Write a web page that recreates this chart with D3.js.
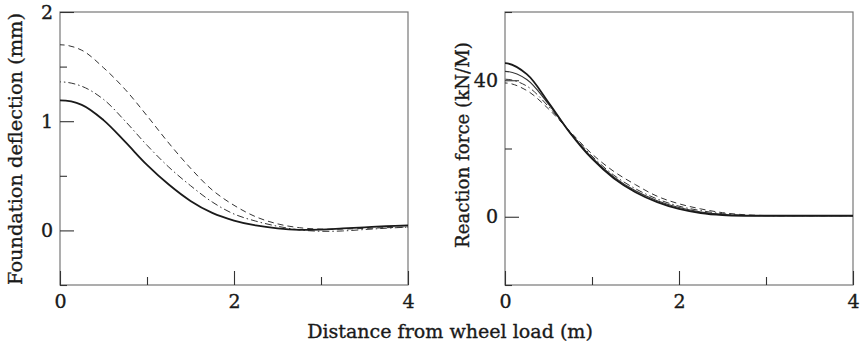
<!DOCTYPE html>
<html>
<head>
<meta charset="utf-8">
<script src="https://cdn.jsdelivr.net/npm/d3@7"></script>
<style>
  body { margin: 0; background: #fff; }
  text { font-family: "DejaVu Serif", serif; fill: #1a1a1a; stroke: #1a1a1a; stroke-width: 0.35px; }
</style>
</head>
<body>
<script>
// distances along the rail (m)
const xs = [0, 0.25, 0.5, 0.75, 1.0, 1.25, 1.5, 1.75, 2.0, 2.25, 2.5, 2.75, 3.0, 3.25, 3.5, 3.75, 4.0];

// foundation deflection (mm)
const deflSolid   = [1.19, 1.15, 1.01, 0.81, 0.60, 0.42, 0.27, 0.16, 0.09, 0.045, 0.018, 0.005, 0.008, 0.018, 0.028, 0.038, 0.045];
const deflDashDot = [1.36, 1.32, 1.20, 1.00, 0.78, 0.58, 0.41, 0.26, 0.15, 0.085, 0.038, 0.005, -0.008, -0.005, 0.008, 0.02, 0.03];
const deflDashed  = [1.70, 1.65, 1.49, 1.29, 1.05, 0.80, 0.57, 0.37, 0.23, 0.125, 0.06, 0.025, 0.012, 0.012, 0.018, 0.025, 0.03];

// reaction force (kN/M)
const forceSolid    = [45.0, 41.8, 33.5, 24.5, 17.0, 11.3, 7.2, 4.3, 2.3, 1.1, 0.5, 0.3, 0.3, 0.3, 0.3, 0.3, 0.3];
const forceThin     = [42.6, 40.2, 33.0, 24.6, 17.3, 11.7, 7.6, 4.7, 2.7, 1.4, 0.7, 0.35, 0.3, 0.3, 0.3, 0.3, 0.3];
const forceDashDot  = [40.3, 38.3, 32.3, 24.8, 17.8, 12.2, 8.2, 5.2, 3.1, 1.8, 0.9, 0.45, 0.3, 0.3, 0.3, 0.3, 0.3];
const forceDashed   = [39.2, 37.0, 31.6, 24.9, 18.4, 13.3, 9.4, 6.0, 3.8, 2.3, 1.2, 0.6, 0.35, 0.3, 0.3, 0.3, 0.3];

const xTicks = [0, 2, 4], xMinor = [1, 3];
const leftTicks = [0, 1, 2], leftMinor = [-0.5, 0.5, 1.5];
const rightTicks = [0, 40], rightMinor = [-20, 20, 60];

const W = 862, H = 348;
const plotTop = 12, plotBottom = 285;

const svg = d3.select("body").append("svg")
  .attr("width", W).attr("height", H);

const lineStyles = {
  solid:   { w: 1.8, dash: null, c: "#1a1a1a" },
  thin:    { w: 1.1, dash: null, c: "#333" },
  dashdot: { w: 1.0, dash: "7,3,1.5,3", c: "#333" },
  dashed:  { w: 1.0, dash: "6,4", c: "#333" }
};

// shrink/grow a title so it spans the same length as in the original
function fitText(sel, target) {
  const len = sel.node().getComputedTextLength();
  const fs = parseFloat(sel.attr("font-size"));
  sel.attr("font-size", fs * target / len);
}

let clipId = 0;
function panel(x0, x1, yDomain, major, minor, series, title, titleX, titleY, titleLen) {
  const x = d3.scaleLinear().domain([0, 4]).range([x0, x1]);
  const y = d3.scaleLinear().domain(yDomain).range([plotBottom, plotTop]);
  const g = svg.append("g");

  const cid = "clip" + (clipId++);
  svg.append("clipPath").attr("id", cid).append("rect")
    .attr("x", x0).attr("y", plotTop - 2)
    .attr("width", x1 - x0).attr("height", plotBottom - plotTop + 4);

  // frame
  g.append("rect")
    .attr("x", x0).attr("y", plotTop)
    .attr("width", x1 - x0).attr("height", plotBottom - plotTop)
    .attr("fill", "none").attr("stroke", "#777").attr("stroke-width", 1.2);

  // bottom axis, ticks pointing in
  g.append("g").attr("transform", `translate(0,${plotBottom})`)
    .call(d3.axisBottom(x).tickValues(xTicks).tickSize(-14).tickPadding(10).tickFormat(d3.format("d")));
  g.append("g").attr("transform", `translate(0,${plotBottom})`)
    .call(d3.axisBottom(x).tickValues(xMinor).tickSize(-8).tickFormat(""));

  // left axis
  g.append("g").attr("transform", `translate(${x0},0)`)
    .call(d3.axisLeft(y).tickValues(major).tickSize(-14).tickPadding(7).tickFormat(d3.format("d")));
  g.append("g").attr("transform", `translate(${x0},0)`)
    .call(d3.axisLeft(y).tickValues(minor).tickSize(-7).tickFormat(""));

  g.selectAll(".domain").remove();
  g.selectAll(".tick line").attr("stroke", "#333").attr("stroke-width", 1.1);
  g.selectAll(".tick text").attr("font-size", 19).attr("fill", "#1a1a1a")
    .attr("font-family", "DejaVu Serif");

  // the response is symmetric about the load, so the mirrored half is drawn
  // too (and clipped away) to give the curves a flat top at x = 0
  const line = d3.line()
    .x(d => x(d[0]))
    .y(d => y(d[1]))
    .curve(d3.curveCatmullRom.alpha(0.5));

  const curves = g.append("g").attr("clip-path", `url(#${cid})`);
  series.forEach(s => {
    const st = lineStyles[s.style];
    const pts = xs.map((v, i) => [v, s.values[i]]);
    const mirrored = pts.slice(1, 4).reverse().map(p => [-p[0], p[1]]).concat(pts);
    curves.append("path")
      .attr("d", line(mirrored))
      .attr("fill", "none")
      .attr("stroke", st.c)
      .attr("stroke-width", st.w)
      .attr("stroke-dasharray", st.dash);
  });

  const t = g.append("text")
    .attr("transform", `translate(${titleX},${titleY}) rotate(-90)`)
    .attr("text-anchor", "middle")
    .attr("font-size", 18)
    .text(title);
  fitText(t, titleLen);
}

panel(60, 408, [-0.5, 2], leftTicks, leftMinor, [
  { values: deflDashed, style: "dashed" },
  { values: deflDashDot, style: "dashdot" },
  { values: deflSolid, style: "solid" }
], "Foundation deflection (mm)", 22, 149, 272);

panel(505, 853, [-20, 60], rightTicks, rightMinor, [
  { values: forceDashed, style: "dashed" },
  { values: forceDashDot, style: "dashdot" },
  { values: forceThin, style: "thin" },
  { values: forceSolid, style: "solid" }
], "Reaction force (kN/M)", 469, 145, 206);

const xt = svg.append("text")
  .attr("x", 450).attr("y", 338)
  .attr("text-anchor", "middle")
  .attr("font-size", 18)
  .text("Distance from wheel load (m)");
fitText(xt, 286);
</script>
</body>
</html>
